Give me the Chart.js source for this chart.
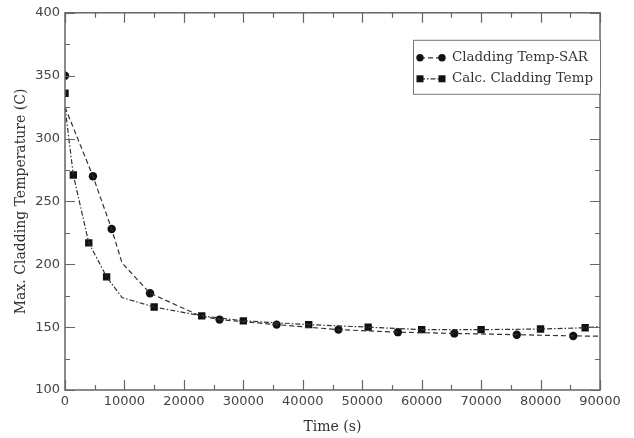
<!DOCTYPE html>
<html>
<head>
<meta charset="utf-8">
<script src="https://cdn.jsdelivr.net/npm/chart.js@4.4.0/dist/chart.umd.min.js"></script>
<style>
  html, body { margin: 0; padding: 0; background: #fff; }
  #wrap { width: 634px; height: 438px; }
</style>
</head>
<body>
<div id="wrap"><canvas id="chart" width="634" height="438"></canvas></div>
<script>
// markers
const sarTime = [0, 4700, 7850, 14300, 26000, 35600, 46000, 56000, 65500, 76000, 85500];
const sarTemp = [350, 270, 228, 177, 156, 152, 148, 146, 145, 144, 143];
const calcTime = [0, 1400, 4000, 7000, 15000, 23000, 30000, 41000, 51000, 60000, 70000, 80000, 87500];
const calcTemp = [336, 271, 217, 190, 166, 159, 155, 152, 150, 148, 148, 148.5, 149.5];

// the two trend lines (they do not start at the first marker)
const sarLineTime = [0, 4700, 7850, 9600, 14300, 22700, 26000, 35600, 46000, 56000, 65500, 76000, 85500, 90000];
const sarLineTemp = [325, 270, 228, 201, 177, 159, 156, 152, 148, 146, 145, 144, 143, 142.8];
const calcLineTime = [0, 1400, 4000, 7000, 9600, 15000, 23000, 30000, 41000, 51000, 60000, 70000, 80000, 87500, 90000];
const calcLineTemp = [325, 271, 217, 190, 173.5, 166, 159, 155, 152, 150, 148, 148, 148.5, 149.5, 150.5];

const xTicks = [0, 10000, 20000, 30000, 40000, 50000, 60000, 70000, 80000, 90000];
const yTicks = [100, 150, 200, 250, 300, 350, 400];

const seriesNames = ['Cladding Temp-SAR', 'Calc. Cladding Temp'];

const pts = (xs, ys) => xs.map((v, i) => ({ x: v, y: ys[i] }));

const SAR_DASH = [5, 3];
const CALC_DASH = [5, 2, 1.5, 2];

// box round the plot with inward ticks on every side
const framePlugin = {
  id: 'frame',
  afterDraw(chart) {
    const { ctx, chartArea: a, scales: { x, y } } = chart;
    ctx.save();
    ctx.strokeStyle = '#666';
    ctx.lineWidth = 1.5;
    ctx.strokeRect(a.left, a.top, a.right - a.left, a.bottom - a.top);

    ctx.lineWidth = 1.2;
    ctx.beginPath();
    const xs = [];
    xTicks.forEach((v, i) => {
      xs.push([v, 10]);
      if (i < xTicks.length - 1) xs.push([(v + xTicks[i + 1]) / 2, 5]);
    });
    xs.forEach(([v, len]) => {
      const px = Math.round(x.getPixelForValue(v)) + 0.5;
      ctx.moveTo(px, a.bottom); ctx.lineTo(px, a.bottom - len);
      ctx.moveTo(px, a.top); ctx.lineTo(px, a.top + len);
    });
    const ys = [];
    yTicks.forEach((v, i) => {
      ys.push([v, 10]);
      if (i < yTicks.length - 1) ys.push([(v + yTicks[i + 1]) / 2, 5]);
    });
    ys.forEach(([v, len]) => {
      const py = Math.round(y.getPixelForValue(v)) + 0.5;
      ctx.moveTo(a.left, py); ctx.lineTo(a.left + len, py);
      ctx.moveTo(a.right, py); ctx.lineTo(a.right - len, py);
    });
    ctx.stroke();
    ctx.restore();
  }
};

// legend box in the top right corner
const legendPlugin = {
  id: 'boxLegend',
  afterDraw(chart) {
    const { ctx, chartArea: a } = chart;
    const bx = a.right - 187, by = a.top + 27, bw = 187, bh = 54;
    ctx.save();
    ctx.fillStyle = '#fff';
    ctx.fillRect(bx, by, bw, bh);
    ctx.strokeStyle = '#777';
    ctx.lineWidth = 1;
    ctx.strokeRect(bx + 0.5, by + 0.5, bw, bh);

    const rows = [
      { name: seriesNames[0], dash: SAR_DASH, shape: 'circle', cy: by + 18 },
      { name: seriesNames[1], dash: CALC_DASH, shape: 'rect', cy: by + 39 }
    ];
    rows.forEach(r => {
      const x1 = bx + 7, x2 = bx + 29;
      ctx.strokeStyle = '#333';
      ctx.lineWidth = 1.2;
      ctx.setLineDash(r.dash);
      ctx.beginPath();
      ctx.moveTo(x1, r.cy); ctx.lineTo(x2, r.cy);
      ctx.stroke();
      ctx.setLineDash([]);
      ctx.fillStyle = '#111';
      [x1, x2].forEach(px => {
        ctx.beginPath();
        if (r.shape === 'circle') ctx.arc(px, r.cy, 3.7, 0, Math.PI * 2);
        else ctx.rect(px - 3.5, r.cy - 3.5, 7, 7);
        ctx.fill();
      });
      ctx.fillStyle = '#333';
      ctx.font = '13.4px "DejaVu Serif"';
      ctx.textBaseline = 'middle';
      ctx.fillText(r.name, bx + 39, r.cy);
    });
    ctx.restore();
  }
};

new Chart(document.getElementById('chart'), {
  type: 'scatter',
  data: {
    datasets: [
      {
        label: seriesNames[0] + ' line',
        data: pts(sarLineTime, sarLineTemp),
        showLine: true,
        borderColor: '#333',
        borderWidth: 1.2,
        borderDash: SAR_DASH,
        pointRadius: 0,
        tension: 0
      },
      {
        label: seriesNames[1] + ' line',
        data: pts(calcLineTime, calcLineTemp),
        showLine: true,
        borderColor: '#333',
        borderWidth: 1.2,
        borderDash: CALC_DASH,
        pointRadius: 0,
        tension: 0
      },
      {
        label: seriesNames[0],
        data: pts(sarTime, sarTemp),
        showLine: false,
        pointStyle: 'circle',
        pointRadius: 4.2,
        backgroundColor: '#111',
        borderColor: '#111',
        borderWidth: 0
      },
      {
        label: seriesNames[1],
        data: pts(calcTime, calcTemp),
        showLine: false,
        pointStyle: 'rect',
        pointRadius: 5.2,
        backgroundColor: '#111',
        borderColor: '#111',
        borderWidth: 0
      }
    ]
  },
  options: {
    responsive: false,
    animation: false,
    layout: { padding: { left: 0, right: 34, top: 8, bottom: 0 } },
    plugins: {
      legend: { display: false },
      tooltip: { enabled: false }
    },
    scales: {
      x: {
        type: 'linear',
        min: 0,
        max: 90000,
        afterFit: s => { s.height = 48; },
        afterBuildTicks: s => { s.ticks = xTicks.map(v => ({ value: v })); },
        grid: { display: false, drawTicks: false },
        border: { display: false },
        ticks: {
          padding: 4,
          maxRotation: 0,
          autoSkip: false,
          color: '#444',
          font: { family: '"DejaVu Sans"', size: 13 },
          callback: v => String(v)
        },
        title: {
          display: true,
          text: 'Time (s)',
          color: '#333',
          font: { family: '"DejaVu Serif"', size: 14 },
          padding: { top: 0, bottom: 2 }
        }
      },
      y: {
        type: 'linear',
        min: 100,
        max: 400,
        afterFit: s => { s.width = 65; },
        afterBuildTicks: s => { s.ticks = yTicks.map(v => ({ value: v })); },
        grid: { display: false, drawTicks: false },
        border: { display: false },
        ticks: {
          padding: 5,
          autoSkip: false,
          color: '#444',
          font: { family: '"DejaVu Sans"', size: 13 }
        },
        title: {
          display: true,
          text: 'Max. Cladding Temperature (C)',
          color: '#333',
          font: { family: '"DejaVu Serif"', size: 14 },
          padding: { top: 13, bottom: 0 }
        }
      }
    }
  },
  plugins: [framePlugin, legendPlugin]
});
</script>
</body>
</html>
